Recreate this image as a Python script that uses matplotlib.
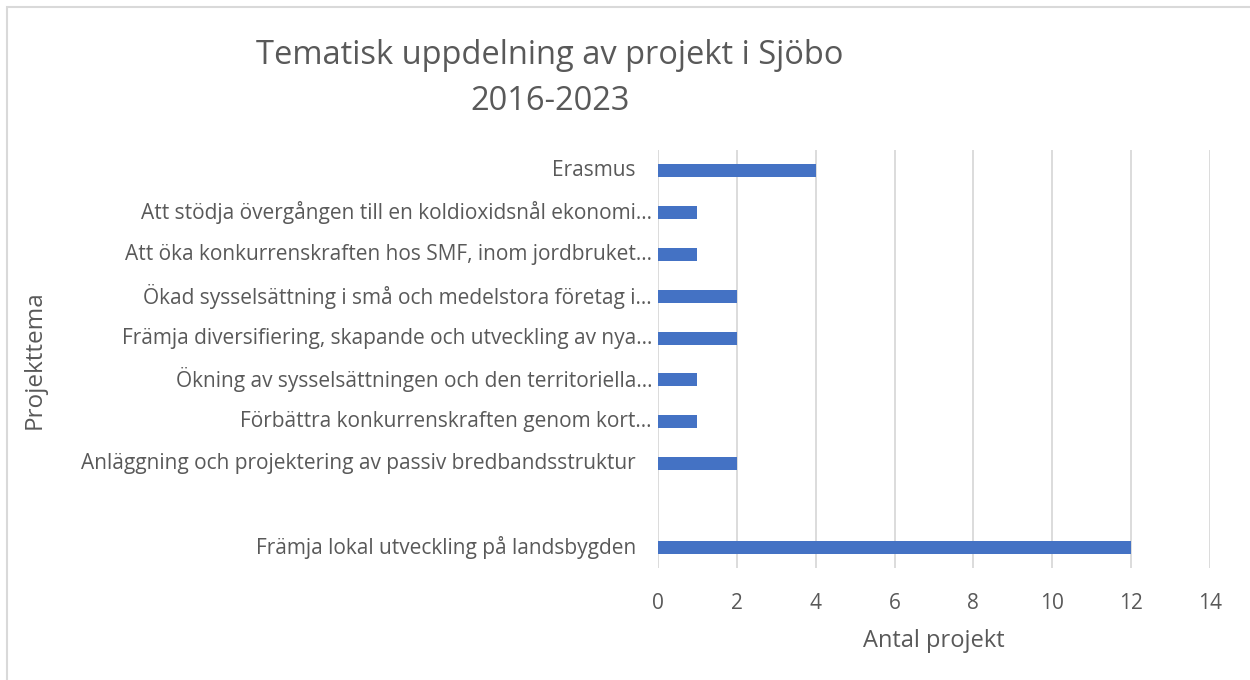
import matplotlib
matplotlib.use("Agg")
import matplotlib.pyplot as plt
import matplotlib.transforms as mtransforms
from matplotlib.patches import Rectangle

plt.rcParams['font.family'] = ['Open Sans', 'DejaVu Sans']

# Data (bottom to top)
categories = [
    "Främja lokal utveckling på landsbygden",
    "",
    "Anläggning och projektering av passiv bredbandsstruktur",
    "Förbättra konkurrenskraften genom kort…",
    "Ökning av sysselsättningen och den territoriella…",
    "Främja diversifiering, skapande och utveckling av nya…",
    "Ökad sysselsättning i små och medelstora företag i…",
    "Att öka konkurrenskraften hos SMF, inom jordbruket…",
    "Att stödja övergången till en koldioxidsnål ekonomi…",
    "Erasmus",
]
values = [12, 0, 2, 1, 1, 2, 2, 1, 1, 4]
xticks = [0, 2, 4, 6, 8, 10, 12, 14]

title_line1 = "Tematisk uppdelning av projekt i Sjöbo"
title_line2 = "2016-2023"
xlabel = "Antal projekt"
ylabel = "Projekttema"

text_color = "#595959"
bar_color = "#4472C4"
grid_color = "#D9D9D9"

fig = plt.figure(figsize=(12.5, 6.8), dpi=100)
fig.patch.set_facecolor("white")
# outer chart border (right/bottom edges lie outside the image)
fig.add_artist(Rectangle((7/1250, -20/680), 1260/1250, (673 + 20)/680, transform=fig.transFigure,
                         fill=False, edgecolor="#D9D9D9", linewidth=1.5))

ax = fig.add_axes([658/1250, 1 - 568/680, 552/1250, 418/680])
ypos = list(range(len(categories)))
ax.barh(ypos, values, height=0.31, color=bar_color, zorder=3)
ax.set_xlim(0, 14)
ax.set_ylim(-0.5, len(categories) - 0.5)
ax.set_xticks(xticks)
ax.set_xticklabels([str(t) for t in xticks], fontsize=15, color=text_color)
ax.tick_params(axis='x', length=0, pad=18)
ax.set_yticks([])
ax.grid(axis='x', color=grid_color, linewidth=1.3, zorder=0)
for s in ax.spines.values():
    s.set_visible(False)

# category labels
blend = mtransforms.blended_transform_factory(ax.transAxes, ax.transData)
for y, lab in zip(ypos, categories):
    if not lab:
        continue
    off = -6 if lab.endswith("…") else -22
    tr = mtransforms.offset_copy(blend, fig=fig, x=off, y=0, units='dots')
    ax.text(0, y, lab, transform=tr, ha='right', va='center', fontsize=15, color=text_color)

ax.set_xlabel(xlabel, fontsize=17, color=text_color, labelpad=11)
fig.text(35/1250, 1 - 360/680, ylabel, rotation=90, ha='center', va='center',
         fontsize=17.5, color=text_color)
fig.text(550/1250, 1 - 56/680, title_line1, ha='center', va='center', fontsize=23.5,
         color=text_color)
fig.text(550/1250, 1 - 102/680, title_line2, ha='center', va='center', fontsize=23.5,
         color=text_color)

fig.savefig("out.png", dpi=100)
